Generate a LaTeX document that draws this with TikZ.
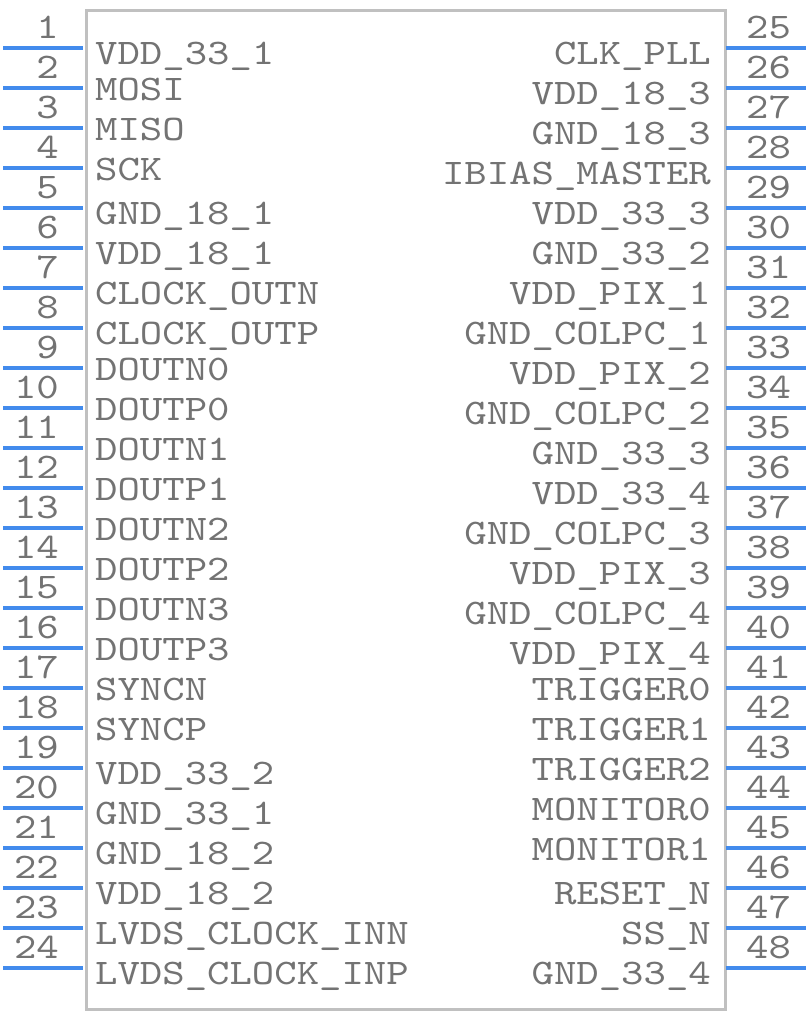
\documentclass[tikz,border=0pt]{standalone}
\usepackage{fontspec}
\newfontfamily\pinfont[FakeStretch=1.185]{lmmono10-regular.otf}
\definecolor{pinblue}{RGB}{66,139,237}
\definecolor{txtgray}{RGB}{115,115,115}
\definecolor{boxgray}{RGB}{192,192,192}
\begin{document}
\begin{tikzpicture}[x=1pt,y=-1pt,
  pinline/.style={draw=pinblue,line width=4pt},
  bodybox/.style={draw=boxgray,line width=3pt,fill=white},
  lbl/.style={text=txtgray,font=\pinfont\fontsize{36}{36}\selectfont,inner sep=0pt},
  pinnum/.style={text=txtgray,font=\pinfont\fontsize{36}{36}\selectfont,inner sep=0pt}]
\useasboundingbox (0,0) rectangle (808,1012);
\node[bodybox,minimum width=639.5pt,minimum height=999pt,anchor=north west,inner sep=0pt] (body) at (84.5,8.5) {};
% left pins
\foreach \n/\t/\o in {1/VDD\_33\_1/16.5,2/MOSI/12.3,3/MISO/12.3,4/SCK/12.3,5/GND\_18\_1/16.5,6/VDD\_18\_1/16.5,7/CLOCK\_OUTN/16.5,8/CLOCK\_OUTP/16.5,9/DOUTN0/12.3,10/DOUTP0/12.3,11/DOUTN1/12.3,12/DOUTP1/12.3,13/DOUTN2/12.3,14/DOUTP2/12.3,15/DOUTN3/12.3,16/DOUTP3/12.3,17/SYNCN/12.3,18/SYNCP/12.3,19/VDD\_33\_2/16.5,20/GND\_33\_1/16.5,21/GND\_18\_2/16.5,22/VDD\_18\_2/16.5,23/LVDS\_CLOCK\_INN/16.5,24/LVDS\_CLOCK\_INP/16.5}{
  \pgfmathsetmacro{\py}{48+40*(\n-1)}
  \coordinate (L\n a) at (3,\py);
  \coordinate (L\n b) at (83,\py);
  \draw[pinline] (L\n a) -- (L\n b);
  \node[pinnum,anchor=base east] (LN\n) at (59,\py-9.5) {\n};
  \node[lbl,anchor=base west] (LT\n) at (95,\py+\o) {\t};
}
% right pins
\foreach \n/\t/\o in {25/CLK\_PLL/16.5,26/VDD\_18\_3/16.5,27/GND\_18\_3/16.5,28/IBIAS\_MASTER/16.5,29/VDD\_33\_3/16.5,30/GND\_33\_2/16.5,31/VDD\_PIX\_1/16.5,32/GND\_COLPC\_1/16.5,33/VDD\_PIX\_2/16.5,34/GND\_COLPC\_2/16.5,35/GND\_33\_3/16.5,36/VDD\_33\_4/16.5,37/GND\_COLPC\_3/16.5,38/VDD\_PIX\_3/16.5,39/GND\_COLPC\_4/16.5,40/VDD\_PIX\_4/16.5,41/TRIGGER0/12.3,42/TRIGGER1/12.3,43/TRIGGER2/12.3,44/MONITOR0/12.3,45/MONITOR1/12.3,46/RESET\_N/16.5,47/SS\_N/16.5,48/GND\_33\_4/16.5}{
  \pgfmathsetmacro{\py}{48+40*(\n-25)}
  \coordinate (R\n a) at (725.5,\py);
  \coordinate (R\n b) at (806,\py);
  \draw[pinline] (R\n a) -- (R\n b);
  \node[pinnum,anchor=base west] (RN\n) at (746,\py-9.5) {\n};
  \node[lbl,anchor=base east] (RT\n) at (711,\py+\o) {\t};
}
\end{tikzpicture}
\end{document}
